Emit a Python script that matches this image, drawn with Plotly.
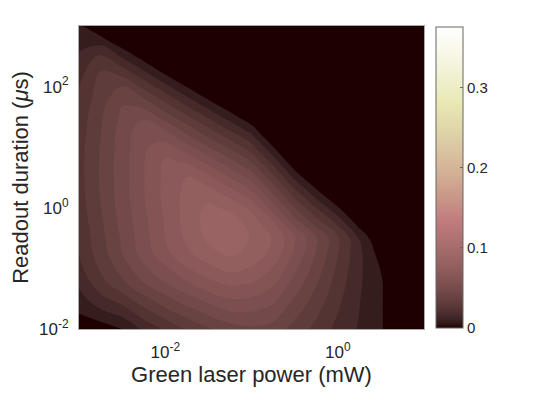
import numpy as np
import plotly.graph_objects as go

# ---- data -------------------------------------------------------------
# grid exponents: green laser power 10^p mW, readout duration 10^d us
power_exp = [-3.0, -2.75, -2.5, -2.25, -2.0, -1.75, -1.5, -1.25, -1.0,
             -0.75, -0.5, -0.25, 0.0, 0.25, 0.5, 0.75, 1.0]
duration_exp = [-2.0, -1.75, -1.5, -1.25, -1.0, -0.75, -0.5, -0.25, 0.0,
                0.25, 0.5, 0.75, 1.0, 1.25, 1.5, 1.75, 2.0, 2.25, 2.5, 2.75, 3.0]

# values (x 1e-3), one row per readout duration, columns follow power_exp
# (values <= 0 lie in the dark "zero" region)
z_d_m200 = [0, 3.0, 7.5, 16.5, 24, 30.8, 36.8, 41.3, 43.5, 42, 34.5, 27.8, 20.3, 14.3, 8.6, -4, 0]
z_d_m175 = [7.5, 12.4, 16.9, 25.9, 33.4, 40.1, 46.1, 50.6, 51.4, 48.4, 39.5, 31.2, 22.4, 14.9, 8.6, -4, 0]
z_d_m150 = [12, 20.3, 26.3, 35.3, 42.8, 49.5, 55.5, 60, 59.3, 54.8, 44.5, 34.7, 24.4, 15.4, 8.6, -4, 0]
z_d_m125 = [16.5, 27, 35.6, 44.6, 52.1, 58.9, 64.9, 69, 67.1, 61.1, 49.4, 38.2, 26.5, 16, 8.6, -4, 0]
z_d_m100 = [20.3, 31.1, 40.5, 51, 58.5, 66.8, 72.8, 77.3, 74.3, 66.8, 54.4, 41.6, 28.5, 16.5, 7.1, -4, 0]
z_d_m075 = [22.9, 33.8, 45, 55.9, 65.3, 73.5, 80.3, 84, 80.3, 72.8, 58.9, 44.6, 30.4, 16.9, 3.9, -6, 0]
z_d_m050 = [24, 35, 46.1, 57, 67.5, 76.5, 84, 88.1, 81.8, 74.3, 60.8, 45.8, 31.5, 14.6, -1.5, -8, 0]
z_d_m025 = [25.1, 36.2, 47.3, 57.8, 68.3, 78, 85.5, 86.3, 79.5, 68.3, 49.5, 34.5, 20.6, 3.6, -10, 0, 0]
z_d_p000 = [26.3, 37.3, 48.4, 58.9, 69, 78, 84, 81, 73.1, 56.3, 37.5, 22.5, 8.5, -8.6, 0, 0, 0]
z_d_p025 = [27, 38, 49.1, 59.6, 69.8, 77.3, 78.8, 71.3, 61.5, 44.3, 25.5, 10.4, -3.7, 0, 0, 0, 0]
z_d_p050 = [27.4, 38.3, 49.1, 59.6, 69.4, 75, 69.4, 60, 49.9, 32.3, 13.4, -1.8, 0, 0, 0, 0, 0]
z_d_p075 = [27.4, 38.3, 49.1, 59.6, 69, 66.8, 57.8, 48, 37.7, 20.2, 1.2, -14, 0, 0, 0, 0, 0]
z_d_p100 = [27, 38, 48.8, 58.9, 63.8, 55.5, 45.5, 35.8, 25.5, 8, -11, 0, 0, 0, 0, 0, 0]
z_d_p125 = [26.3, 37.3, 48.4, 57.8, 53.9, 43.5, 33.4, 23.6, 13.4, -4.2, 0, 0, 0, 0, 0, 0, 0]
z_d_p150 = [25.5, 36.5, 46.5, 51, 41.6, 31.4, 21.2, 11.4, 1.2, -16, 0, 0, 0, 0, 0, 0, 0]
z_d_p175 = [24, 34.5, 44.3, 40.2, 29.5, 19.2, 9, -0.8, -11, 0, 0, 0, 0, 0, 0, 0, 0]
z_d_p200 = [22.5, 33, 37.5, 28, 17.3, 7.1, -3.2, 0, 0, 0, 0, 0, 0, 0, 0, 0, 0]
z_d_p225 = [19.5, 30, 26, 15.8, 5, -5.2, 0, 0, 0, 0, 0, 0, 0, 0, 0, 0, 0]
z_d_p250 = [16.5, 24, 13.9, 3.6, -7.1, 0, 0, 0, 0, 0, 0, 0, 0, 0, 0, 0, 0]
z_d_p275 = [12, 11.3, 1.7, -8.6, 0, 0, 0, 0, 0, 0, 0, 0, 0, 0, 0, 0, 0]
z_d_p300 = [9, 0.2, -10.5, 0, 0, 0, 0, 0, 0, 0, 0, 0, 0, 0, 0, 0, 0]

level_step = 0.0075
color_max = 0.376
cbar_ticks = [0, 0.1, 0.2, 0.3]
cbar_ticktext = ["0", "0.1", "0.2", "0.3"]
x_ticks = [1e-2, 1e0]
x_ticktext = ["10<sup>-2</sup>", "10<sup>0</sup>"]
y_ticks = [1e-2, 1e0, 1e2]
y_ticktext = ["10<sup>-2</sup>", "10<sup>0</sup>", "10<sup>2</sup>"]

rows = [z_d_m200, z_d_m175, z_d_m150, z_d_m125, z_d_m100, z_d_m075, z_d_m050,
        z_d_m025, z_d_p000, z_d_p025, z_d_p050, z_d_p075, z_d_p100, z_d_p125,
        z_d_p150, z_d_p175, z_d_p200, z_d_p225, z_d_p250, z_d_p275, z_d_p300]
Z = np.array(rows, dtype=float) / 1000.0
X = 10.0 ** np.array(power_exp)
Y = 10.0 ** np.array(duration_exp)


# ---- MATLAB "pink" colormap --------------------------------------------
def matlab_pink(m=64):
    n = int(np.fix(3 / 8 * m))
    r = np.concatenate([np.arange(1, n + 1) / n, np.ones(m - n)])
    g = np.concatenate([np.zeros(n), np.arange(1, n + 1) / n, np.ones(m - 2 * n)])
    b = np.concatenate([np.zeros(2 * n), np.arange(1, m - 2 * n + 1) / (m - 2 * n)])
    gray = np.arange(m) / (m - 1)
    pr = np.sqrt((2 * gray + r) / 3)
    pg = np.sqrt((2 * gray + g) / 3)
    pb = np.sqrt((2 * gray + b) / 3)
    return [[i / (m - 1), "rgb(%d,%d,%d)" % (round(pr[i] * 255), round(pg[i] * 255), round(pb[i] * 255))]
            for i in range(m)]


pink = matlab_pink(64)

FONT = "Liberation Sans, Arial, Helvetica, sans-serif"
TXT = "#262626"

fig = go.Figure()

# filled contours; levels run over the whole colour range so that
# each band takes the colormap value of its lower level
fig.add_trace(go.Contour(
    x=X, y=Y, z=Z,
    colorscale=pink,
    contours=dict(start=level_step, end=color_max - level_step / 2, size=level_step,
                  coloring="fill", showlines=False),
    line=dict(width=0, smoothing=1.3),
    showscale=False,
    hoverinfo="skip",
))

# colour bar (0 .. color_max)
fig.add_trace(go.Scatter(
    x=[X[0]], y=[Y[0]], mode="markers",
    marker=dict(size=1, opacity=0, color=[0], cmin=0, cmax=color_max,
                colorscale=pink, showscale=True,
                colorbar=dict(
                    thickness=27, thicknessmode="pixels",
                    len=301, lenmode="pixels",
                    x=1.0348, xanchor="left", y=0.5, yanchor="middle",
                    xpad=0, ypad=0,
                    outlinewidth=1, outlinecolor="#666666",
                    tickvals=cbar_ticks, ticktext=cbar_ticktext,
                    ticks="inside", ticklen=3, tickcolor="#666666",
                    tickfont=dict(family=FONT, size=15, color=TXT),
                )),
    hoverinfo="skip", showlegend=False,
))

axis_common = dict(type="log", showgrid=False, zeroline=False, showline=True,
                   mirror=True, linecolor="#a8a8a8", linewidth=1, ticks="",
                   automargin=False,
                   tickfont=dict(family=FONT, size=17, color=TXT))

# the page body adds an 8 px offset, so the figure is 8 px smaller
fig.update_layout(
    width=542, height=401,
    margin=dict(l=71, r=126, t=18, b=80),
    paper_bgcolor="white", plot_bgcolor="white",
    showlegend=False,
    xaxis=dict(axis_common, range=[-3, 1], tickvals=x_ticks, ticktext=x_ticktext,
               ticklabelstandoff=8,
               title=dict(text="Green laser power (mW)", standoff=3,
                          font=dict(family=FONT, size=22, color=TXT))),
    yaxis=dict(axis_common, range=[-2, 3], tickvals=y_ticks, ticktext=y_ticktext,
               ticklabelstandoff=6,
               title=dict(text="Readout duration (<i>\u03bc</i>s)", standoff=10,
                          font=dict(family=FONT, size=22, color=TXT))),
)

fig.write_html("out.html")
